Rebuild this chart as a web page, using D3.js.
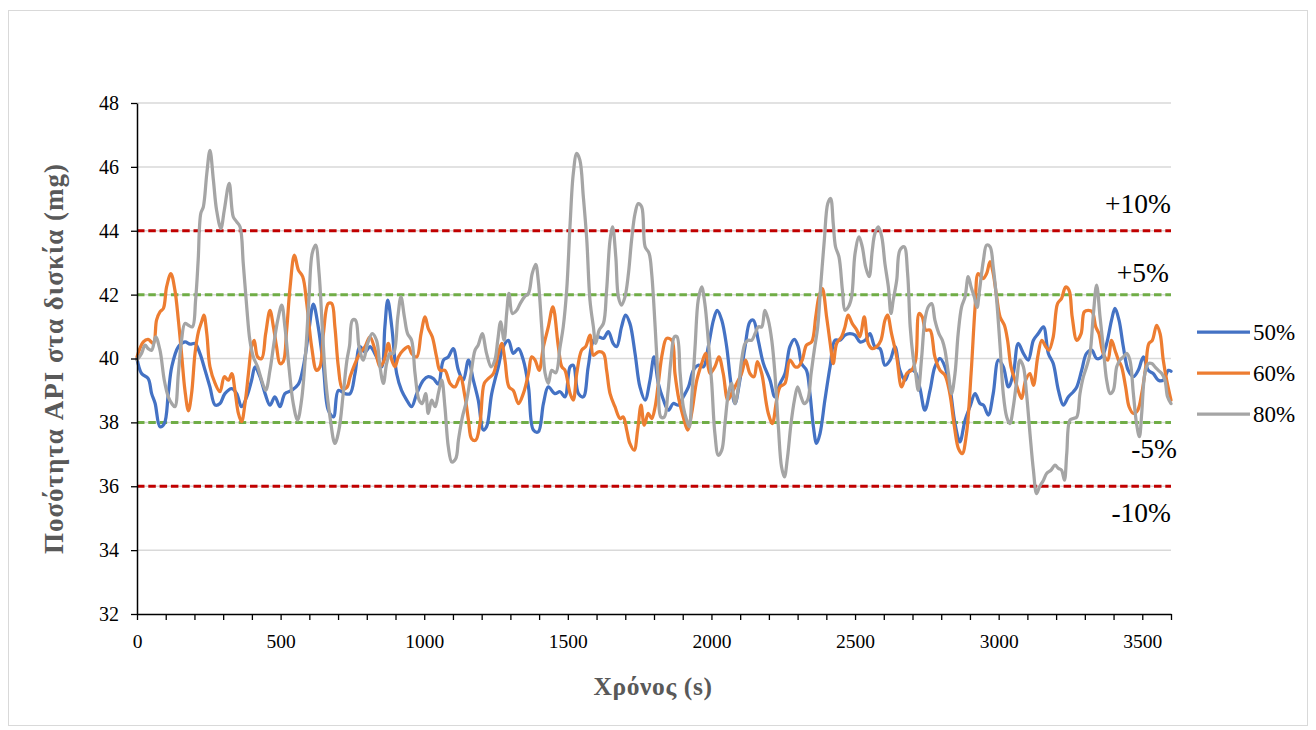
<!DOCTYPE html>
<html>
<head>
<meta charset="utf-8">
<script src="https://cdn.jsdelivr.net/npm/d3@7"></script>
<style>
  body { margin: 0; background: #fff; }
  svg { display: block; }
  text { font-family: "Liberation Serif", "Times New Roman", serif; }
</style>
</head>
<body>
<svg id="chart" width="1316" height="730"></svg>
<script>
// ---- data -------------------------------------------------------------
const seriesNames = ["50%", "60%", "80%"];
const seriesColors = ["#4472c4", "#ed7d31", "#a5a5a5"];

// [time (s), API amount (mg)]
const s50 = [[0,40.0],[16,39.53],[39,39.37],[51,38.9],[63,38.6],[80,37.86],[95,37.96],[109,38.9],[121,39.74],[144,40.37],[167,40.52],[185,40.45],[202,40.47],[219,40.16],[237,39.63],[254,39.11],[272,38.54],[289,38.59],[306,38.9],[330,39.06],[347,38.9],[364,38.49],[382,38.8],[399,39.32],[411,39.74],[428,39.43],[446,38.9],[463,38.54],[480,38.8],[498,38.49],[515,38.9],[538,39.0],[562,39.2],[579,39.74],[597,40.78],[614,41.7],[631,40.99],[649,39.74],[666,38.38],[684,38.17],[701,39.0],[724,38.9],[742,38.9],[759,39.53],[776,40.37],[794,40.2],[811,40.37],[834,40.05],[852,39.74],[863,40.99],[873,41.83],[887,40.99],[904,39.53],[921,39.0],[939,38.7],[956,38.49],[974,38.9],[997,39.32],[1014,39.43],[1032,39.37],[1049,39.2],[1067,39.95],[1084,40.05],[1101,40.31],[1119,39.63],[1136,39.32],[1154,39.95],[1171,39.32],[1188,38.7],[1206,37.76],[1217,37.86],[1235,38.9],[1258,39.74],[1275,40.37],[1293,40.57],[1310,40.16],[1328,40.31],[1345,39.95],[1363,39.11],[1380,37.76],[1397,37.7],[1415,38.59],[1432,39.11],[1455,38.9],[1473,38.96],[1490,38.8],[1508,39.74],[1519,39.79],[1537,38.9],[1554,38.8],[1571,39.74],[1589,40.57],[1606,40.68],[1624,40.63],[1641,40.84],[1658,40.47],[1670,40.37],[1687,40.99],[1701,41.36],[1716,41.1],[1734,40.16],[1751,39.11],[1769,38.7],[1786,39.32],[1800,40.05],[1815,39.22],[1833,38.7],[1850,38.38],[1867,38.59],[1885,38.54],[1902,38.8],[1920,39.11],[1937,39.63],[1954,39.79],[1972,39.74],[1989,40.37],[2007,41.2],[2020,41.51],[2036,41.2],[2053,40.37],[2068,39.22],[2082,38.59],[2099,39.32],[2117,40.37],[2134,41.15],[2146,41.2],[2163,40.57],[2181,39.84],[2204,39.32],[2221,38.8],[2239,39.22],[2256,39.53],[2273,40.37],[2289,40.6],[2302,40.37],[2314,39.84],[2331,39.63],[2343,38.9],[2355,37.86],[2366,37.34],[2378,37.65],[2395,38.7],[2413,39.74],[2430,40.57],[2447,40.57],[2465,40.73],[2482,40.78],[2500,40.73],[2517,40.52],[2535,40.57],[2552,40.78],[2569,40.37],[2587,40.31],[2604,39.79],[2622,39.95],[2639,40.37],[2656,39.63],[2674,39.32],[2691,39.63],[2709,39.58],[2726,39.06],[2743,38.38],[2761,39.0],[2778,39.74],[2796,40.0],[2813,39.74],[2830,39.11],[2848,37.96],[2865,37.39],[2883,38.07],[2900,38.49],[2918,38.9],[2935,38.59],[2947,38.54],[2964,38.23],[2981,38.9],[2999,39.95],[3016,39.74],[3034,39.11],[3051,39.53],[3068,40.47],[3086,40.16],[3103,39.95],[3121,40.57],[3138,40.78],[3156,40.99],[3173,40.16],[3190,39.84],[3208,39.0],[3225,38.54],[3243,38.8],[3260,38.96],[3272,39.11],[3289,39.63],[3306,40.16],[3324,40.26],[3341,40.0],[3359,40.05],[3376,40.47],[3393,41.2],[3405,41.57],[3419,41.2],[3434,40.37],[3451,39.63],[3469,39.43],[3486,39.63],[3504,40.05],[3521,39.63],[3538,39.53],[3556,39.32],[3573,39.32],[3591,39.63],[3600,39.6]];

const s60 = [[0,40.05],[22,40.52],[39,40.6],[57,40.47],[68,41.2],[80,41.46],[92,41.57],[103,42.24],[118,42.66],[132,42.14],[144,41.2],[155,40.16],[167,39.0],[179,38.36],[190,38.9],[202,40.16],[214,40.84],[225,41.15],[233,41.36],[243,40.78],[254,39.74],[272,39.22],[289,38.96],[304,39.43],[318,39.32],[330,39.53],[341,39.0],[353,38.28],[364,38.02],[376,38.59],[388,39.53],[399,40.37],[408,40.57],[420,40.05],[434,40.0],[448,40.78],[463,41.51],[475,40.99],[486,40.37],[498,39.84],[509,39.9],[521,40.89],[533,42.24],[548,43.24],[562,42.77],[577,42.56],[591,41.72],[608,40.37],[625,39.63],[637,39.74],[649,40.78],[666,41.72],[678,41.72],[689,40.99],[701,39.74],[715,39.06],[731,39.1],[742,39.43],[759,39.84],[776,40.16],[794,40.37],[811,40.68],[829,40.26],[846,39.74],[861,39.95],[875,40.47],[887,39.95],[898,39.74],[910,40.05],[927,40.26],[945,40.37],[956,40.16],[974,40.05],[989,40.78],[1003,41.3],[1014,40.94],[1028,40.68],[1043,40.05],[1055,39.63],[1072,39.63],[1090,39.22],[1107,39.11],[1125,39.43],[1142,38.8],[1154,38.07],[1165,37.49],[1179,37.44],[1194,37.96],[1209,39.22],[1223,39.37],[1241,39.53],[1258,40.16],[1270,40.47],[1281,39.95],[1295,39.11],[1310,39.0],[1328,38.59],[1345,38.9],[1363,39.53],[1374,40.05],[1386,39.95],[1400,39.63],[1415,40.37],[1432,40.99],[1448,41.62],[1467,40.37],[1479,39.74],[1490,39.63],[1508,38.9],[1519,38.7],[1531,39.53],[1548,40.26],[1562,40.37],[1577,40.73],[1589,40.1],[1606,40.21],[1624,40.16],[1635,39.63],[1647,38.9],[1664,38.49],[1682,38.12],[1693,38.17],[1705,37.76],[1716,37.34],[1731,37.13],[1743,37.76],[1755,38.54],[1766,37.91],[1780,38.28],[1792,38.12],[1804,38.49],[1815,39.22],[1829,40.16],[1844,40.63],[1862,40.57],[1873,39.53],[1887,38.7],[1902,38.17],[1917,37.76],[1931,38.28],[1949,39.32],[1966,39.84],[1980,40.16],[1995,39.53],[2012,39.74],[2026,40.05],[2041,39.53],[2057,38.7],[2070,38.9],[2088,39.22],[2105,39.53],[2119,39.95],[2134,39.53],[2148,39.43],[2160,39.9],[2175,39.53],[2190,38.65],[2198,38.28],[2212,37.96],[2227,38.7],[2239,39.11],[2256,39.22],[2273,39.95],[2291,39.74],[2302,39.74],[2316,39.95],[2331,40.42],[2349,40.52],[2363,41.3],[2374,41.93],[2386,42.19],[2401,41.3],[2415,40.37],[2424,39.84],[2436,40.47],[2453,40.68],[2465,40.99],[2476,41.36],[2490,41.1],[2506,40.89],[2517,40.68],[2532,41.3],[2546,40.47],[2560,40.31],[2575,40.37],[2590,40.57],[2604,41.2],[2613,41.36],[2627,40.78],[2645,40.05],[2662,39.11],[2680,39.53],[2697,39.63],[2711,39.95],[2723,41.41],[2734,41.3],[2746,40.89],[2761,40.89],[2778,40.05],[2796,39.63],[2813,39.48],[2830,38.9],[2846,37.86],[2860,37.18],[2873,37.02],[2888,37.65],[2904,39.53],[2918,41.62],[2929,42.66],[2945,42.5],[2958,42.66],[2970,43.03],[2981,42.66],[2993,41.93],[3005,41.3],[3020,41.04],[3031,40.57],[3043,39.74],[3057,39.32],[3068,39.0],[3080,38.75],[3094,39.32],[3109,39.53],[3121,39.16],[3136,40.05],[3150,40.57],[3164,40.37],[3175,40.26],[3190,40.68],[3205,41.72],[3219,41.88],[3233,42.24],[3245,42.14],[3256,41.3],[3272,40.57],[3287,40.78],[3298,41.46],[3312,41.51],[3326,41.46],[3338,40.99],[3349,40.78],[3364,40.16],[3380,39.95],[3393,40.57],[3405,40.26],[3417,39.95],[3428,39.74],[3442,39.11],[3454,38.49],[3469,38.28],[3484,38.38],[3498,38.9],[3512,39.74],[3523,40.47],[3535,40.57],[3550,41.04],[3562,40.78],[3573,39.95],[3585,39.32],[3600,38.7]];

const s80 = [[0,39.95],[16,40.16],[28,40.42],[39,40.31],[51,40.26],[65,40.68],[80,40.26],[95,39.32],[109,38.8],[121,38.59],[132,38.49],[144,39.53],[155,40.57],[167,41.1],[179,41.04],[193,40.99],[204,41.83],[213,43.08],[222,44.54],[231,44.75],[243,45.79],[254,46.52],[266,45.58],[277,44.65],[292,44.07],[304,44.65],[321,45.48],[335,44.44],[347,44.28],[359,44.12],[370,42.97],[382,41.62],[393,40.57],[405,40.05],[420,39.74],[434,39.32],[448,39.0],[463,39.63],[475,40.37],[490,41.2],[504,41.67],[515,40.99],[529,39.74],[544,38.59],[559,38.07],[573,38.7],[587,40.16],[599,41.93],[610,43.29],[622,43.55],[634,42.66],[645,40.99],[657,39.32],[672,38.17],[689,37.34],[703,37.76],[718,38.9],[731,39.95],[740,40.4],[750,41.2],[761,41.2],[773,40.37],[788,39.95],[803,40.47],[819,40.78],[834,40.57],[846,39.74],[858,39.22],[869,39.84],[881,40.16],[893,40.16],[908,41.3],[919,41.93],[931,41.3],[942,40.78],[956,40.57],[968,39.53],[982,38.7],[993,38.59],[1005,38.9],[1014,38.28],[1026,38.7],[1038,38.49],[1049,38.9],[1061,39.32],[1072,38.49],[1084,37.23],[1096,36.76],[1110,36.87],[1119,37.44],[1133,38.17],[1148,38.7],[1163,39.53],[1177,40.26],[1188,40.42],[1202,40.78],[1217,40.16],[1233,39.74],[1246,39.95],[1256,40.57],[1266,41.15],[1278,40.57],[1287,41.41],[1295,42.04],[1307,41.41],[1322,41.51],[1334,41.72],[1349,41.93],[1363,42.04],[1376,42.66],[1388,42.95],[1397,42.45],[1409,40.99],[1421,39.53],[1432,39.22],[1444,39.63],[1458,39.55],[1473,40.37],[1484,40.99],[1496,42.14],[1508,44.23],[1519,45.79],[1531,46.42],[1542,46.21],[1554,45.06],[1566,43.71],[1577,41.83],[1589,40.99],[1597,40.47],[1609,40.89],[1624,41.1],[1635,42.14],[1647,43.71],[1656,44.12],[1667,43.18],[1676,41.93],[1687,41.67],[1699,41.93],[1711,42.66],[1722,43.71],[1734,44.54],[1745,44.85],[1757,44.75],[1769,43.5],[1783,43.29],[1792,42.66],[1804,40.99],[1815,39.22],[1824,38.17],[1836,38.17],[1848,38.9],[1859,39.95],[1871,40.68],[1880,40.68],[1891,39.53],[1902,38.49],[1914,38.07],[1923,37.86],[1931,38.7],[1943,40.37],[1954,41.83],[1966,42.24],[1977,41.72],[1989,40.57],[2001,39.22],[2012,37.65],[2024,36.97],[2036,37.13],[2047,37.96],[2059,38.9],[2070,39.22],[2082,38.59],[2094,39.11],[2105,39.95],[2117,40.47],[2128,40.57],[2140,40.57],[2152,40.78],[2163,40.99],[2175,40.99],[2186,41.51],[2198,41.2],[2210,40.57],[2221,39.53],[2233,37.86],[2244,36.61],[2254,36.29],[2265,36.92],[2277,37.96],[2289,38.7],[2300,39.11],[2312,38.8],[2323,38.59],[2335,38.7],[2347,39.53],[2358,40.26],[2370,40.99],[2381,42.35],[2393,43.71],[2405,44.85],[2415,45.01],[2424,44.23],[2432,43.5],[2444,43.18],[2456,42.14],[2465,41.51],[2477,41.62],[2488,41.93],[2500,43.29],[2514,43.81],[2525,43.5],[2537,42.87],[2549,42.56],[2560,43.39],[2569,43.91],[2581,44.12],[2593,43.81],[2604,42.97],[2616,42.24],[2625,41.41],[2633,41.83],[2645,42.45],[2656,43.39],[2671,43.5],[2683,42.66],[2692,40.99],[2702,40.05],[2711,39.53],[2720,39.0],[2732,40.05],[2743,41.2],[2755,41.62],[2767,41.72],[2778,41.2],[2792,40.78],[2804,40.57],[2813,40.26],[2825,39.53],[2836,38.9],[2848,39.53],[2859,40.78],[2871,41.62],[2883,41.93],[2894,42.56],[2904,42.24],[2915,41.93],[2925,41.6],[2932,42.04],[2947,43.08],[2958,43.55],[2970,43.5],[2981,42.87],[2993,41.83],[3005,40.37],[3016,38.9],[3028,38.17],[3039,37.96],[3051,38.49],[3063,39.32],[3074,39.95],[3086,39.74],[3097,38.9],[3109,37.65],[3121,36.5],[3132,35.77],[3142,35.98],[3156,36.19],[3167,36.4],[3182,36.5],[3196,36.66],[3208,36.56],[3219,36.5],[3229,36.19],[3237,37.02],[3248,38.07],[3260,38.12],[3272,38.17],[3283,38.9],[3295,39.43],[3306,39.74],[3318,40.16],[3330,41.41],[3341,42.3],[3353,41.3],[3364,40.37],[3376,39.32],[3388,38.9],[3399,39.0],[3411,39.74],[3422,39.95],[3434,40.05],[3446,40.16],[3457,39.95],[3469,38.9],[3480,37.96],[3490,37.55],[3498,38.28],[3509,39.53],[3521,39.84],[3533,39.84],[3544,39.74],[3556,39.63],[3568,39.53],[3579,39.32],[3588,38.8],[3600,38.59]];

// tolerance limits around the 40 mg target
const limitValues = [44, 42, 38, 36];
const limitLabels = ["+10%", "+5%", "-5%", "-10%"];
const limitColors = ["#c00000", "#70ad47", "#70ad47", "#c00000"];

const yTicks = [32, 34, 36, 38, 40, 42, 44, 46, 48];
const xMajorTicks = [0, 500, 1000, 1500, 2000, 2500, 3000, 3500];
const xMinorStep = 100;

const xTitle = "Χρόνος (s)";
const yTitle = "Ποσότητα API στα δισκία (mg)";

// ---- layout -----------------------------------------------------------
const svg = d3.select("#chart");
const W = 1316, H = 730;
const plot = { left: 137, right: 1171, top: 103, bottom: 614 };

svg.append("rect")
  .attr("x", 8.5).attr("y", 10.5)
  .attr("width", W - 17).attr("height", H - 15)
  .attr("fill", "#fff").attr("stroke", "#d9d9d9").attr("stroke-width", 1);

const x = d3.scaleLinear().domain([0, 3600]).range([plot.left, plot.right]);
const y = d3.scaleLinear().domain([32, 48]).range([plot.bottom, plot.top]);

// horizontal gridlines
svg.append("g")
  .selectAll("line")
  .data(yTicks.filter(v => v !== 32))
  .join("line")
  .attr("x1", plot.left).attr("x2", plot.right)
  .attr("y1", d => y(d)).attr("y2", d => y(d))
  .attr("stroke", "#d9d9d9").attr("stroke-width", 1.5);

// tolerance limit lines
svg.append("g")
  .selectAll("line")
  .data(limitValues)
  .join("line")
  .attr("x1", plot.left).attr("x2", plot.right)
  .attr("y1", d => y(d)).attr("y2", d => y(d))
  .attr("stroke", (d, i) => limitColors[i])
  .attr("stroke-width", 3)
  .attr("stroke-dasharray", "7.5,3.8");

// limit labels
const labelOffsets = [-18, -13, 36, 36];
const labelRight = [plot.right, plot.right - 2, plot.right + 6, plot.right];
svg.append("g")
  .selectAll("text")
  .data(limitValues)
  .join("text")
  .attr("x", (d, i) => labelRight[i])
  .attr("y", (d, i) => y(d) + labelOffsets[i])
  .attr("text-anchor", "end")
  .attr("font-size", 27.5)
  .attr("fill", "#000")
  .text((d, i) => limitLabels[i]);

// series lines
const line = d3.line()
  .x(d => x(d[0]))
  .y(d => y(d[1]))
  .curve(d3.curveCatmullRom.alpha(0.5));

const allSeries = [s50, s60, s80];
svg.append("g")
  .selectAll("path")
  .data(allSeries)
  .join("path")
  .attr("d", line)
  .attr("fill", "none")
  .attr("stroke", (d, i) => seriesColors[i])
  .attr("stroke-width", 3.25)
  .attr("stroke-linejoin", "round")
  .attr("stroke-linecap", "round");

// axes
const xAxis = d3.axisBottom(x)
  .tickValues(d3.range(0, 3601, xMinorStep))
  .tickFormat(d => xMajorTicks.includes(d) ? d : "")
  .tickSize(6).tickSizeOuter(0).tickPadding(14);
const gx = svg.append("g")
  .attr("transform", `translate(0,${plot.bottom})`)
  .call(xAxis);
gx.select(".domain").attr("stroke", "#000").attr("stroke-width", 1.5);
gx.selectAll(".tick line").attr("stroke", "#000").attr("stroke-width", 1.3);
gx.selectAll(".tick text")
  .attr("font-size", 19.5).attr("fill", "#000");

const yAxis = d3.axisLeft(y)
  .tickValues(yTicks)
  .tickSize(6).tickSizeOuter(0).tickPadding(12);
const gy = svg.append("g")
  .attr("transform", `translate(${plot.left},0)`)
  .call(yAxis);
gy.select(".domain").attr("stroke", "#000").attr("stroke-width", 1.5);
gy.selectAll(".tick line").attr("stroke", "#000").attr("stroke-width", 1.3);
gy.selectAll(".tick text")
  .attr("font-size", 20).attr("fill", "#000");

// axis titles
svg.append("text")
  .attr("x", (plot.left + plot.right) / 2 - 1)
  .attr("y", 695)
  .attr("text-anchor", "middle")
  .attr("font-size", 25.5).attr("font-weight", "bold")
  .attr("letter-spacing", 0.6)
  .attr("fill", "#595959")
  .text(xTitle);

svg.append("text")
  .attr("transform", `translate(63,${(plot.top + plot.bottom) / 2}) rotate(-90)`)
  .attr("text-anchor", "middle")
  .attr("font-size", 27).attr("font-weight", "bold")
  .attr("letter-spacing", 1)
  .attr("fill", "#595959")
  .text(yTitle);

// legend
const legend = svg.append("g")
  .selectAll("g")
  .data(seriesNames)
  .join("g")
  .attr("transform", (d, i) => `translate(1197,${332 + i * 41})`);
legend.append("line")
  .attr("x1", 0).attr("x2", 53)
  .attr("stroke", (d, i) => seriesColors[i])
  .attr("stroke-width", 3.25);
legend.append("text")
  .attr("x", 56).attr("y", 0)
  .attr("dy", "0.35em")
  .attr("font-size", 23).attr("fill", "#000")
  .text(d => d);
</script>
</body>
</html>
